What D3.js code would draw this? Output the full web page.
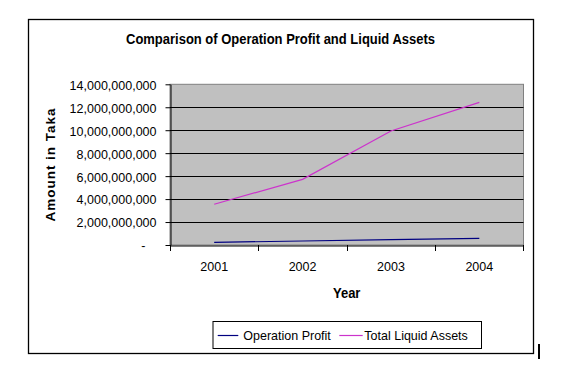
<!DOCTYPE html>
<html><head><meta charset="utf-8">
<script src="https://cdn.jsdelivr.net/npm/d3@7"></script>
<style>body{margin:0;background:#fff}svg{display:block}text{font-family:Arial,"Liberation Sans",sans-serif}</style>
</head><body>
<script>
const years = ["2001","2002","2003","2004"];
const operationProfit = [230000000, 350000000, 460000000, 580000000];
const totalLiquidAssets = [3550000000, 5720000000, 9930000000, 12430000000];
const yTicks = [0, 2e9, 4e9, 6e9, 8e9, 10e9, 12e9, 14e9];
const seriesNames = ["Operation Profit", "Total Liquid Assets"];
const seriesColors = ["#000080", "#CC33CC"];

const W = 564, H = 380;
const svg = d3.select("body").append("svg").attr("width", W).attr("height", H);

// make text look taller (narrow rendering of the reference): measure at base size, then enlarge keeping width
function stretch(sel, baseSize, bigSize) {
  sel.each(function() {
    const t = d3.select(this);
    t.attr("font-size", baseSize);
    const w = this.getComputedTextLength();
    t.attr("font-size", bigSize).attr("textLength", w).attr("lengthAdjust", "spacingAndGlyphs");
  });
}

// outer chart border
svg.append("rect").attr("x", 28.5).attr("y", 19.5).attr("width", 505).attr("height", 334)
  .attr("fill", "#fff").attr("stroke", "#000").attr("stroke-width", 1.3);
svg.append("line").attr("x1", 539).attr("x2", 539).attr("y1", 344).attr("y2", 359)
  .attr("stroke", "#000").attr("stroke-width", 2);

const x = d3.scaleBand().domain(years).range([170, 523.5]);
const y = d3.scaleLinear().domain([0, 14e9]).range([245, 84.3]);

// plot area
svg.append("rect").attr("x", 170).attr("y", y(14e9)).attr("width", 523.5 - 170).attr("height", y(0) - y(14e9))
  .attr("fill", "#C0C0C0").attr("stroke", "#808080").attr("stroke-width", 1);

// gridlines
svg.append("g").selectAll("line").data(yTicks.filter(d => d > 0 && d < 14e9)).join("line")
  .attr("x1", 170).attr("x2", 523.5).attr("y1", d => Math.round(y(d)) + 0.5).attr("y2", d => Math.round(y(d)) + 0.5)
  .attr("stroke", "#000").attr("stroke-width", 1);

// y axis
const fmt = d => d === 0 ? "-" : d3.format(",")(d);
const yAxis = svg.append("g").attr("transform", "translate(170.5,0)")
  .call(d3.axisLeft(y).tickValues(yTicks).tickFormat(fmt).tickSize(5).tickSizeOuter(0).tickPadding(9));
yAxis.select(".domain").attr("stroke", "#000");
yAxis.selectAll("text").attr("fill", "#000").attr("font-family", "Arial, 'Liberation Sans', sans-serif")
  .attr("dy", "0.36em");
stretch(yAxis.selectAll("text"), 12.5, 13.5);
yAxis.selectAll(".tick").filter(d => d === 0).select("text").attr("x", -25);

// x axis
const xAxis = svg.append("g").attr("transform", "translate(0,245.5)")
  .call(d3.axisBottom(x).tickSize(0).tickSizeOuter(0).tickPadding(16));
xAxis.select(".domain").attr("stroke", "#000");
xAxis.selectAll("text").attr("fill", "#000").attr("font-family", "Arial, 'Liberation Sans', sans-serif");
stretch(xAxis.selectAll("text"), 12.5, 13.5);
// category boundary tick marks
svg.append("g").selectAll("line").data(years.concat(["end"])).join("line")
  .attr("x1", (d, i) => i < years.length ? Math.round(x(d)) + 0.5 : 523.5)
  .attr("x2", (d, i) => i < years.length ? Math.round(x(d)) + 0.5 : 523.5)
  .attr("y1", 245).attr("y2", 251).attr("stroke", "#000");

// lines
const line = d3.line().x((d, i) => x(years[i]) + x.bandwidth() / 2).y(d => y(d));
[operationProfit, totalLiquidAssets].forEach((s, k) => {
  svg.append("path").datum(s).attr("d", line).attr("fill", "none")
    .attr("stroke", seriesColors[k]).attr("stroke-width", 1.2);
});

// title
svg.append("text").attr("x", 280.5).attr("y", 43.5).attr("text-anchor", "middle")
  .attr("font-size", 14.5).attr("font-weight", "bold").attr("textLength", 309).attr("lengthAdjust", "spacingAndGlyphs")
  .text("Comparison of Operation Profit and Liquid Assets");

// y axis title
svg.append("text").attr("transform", "translate(55,165) rotate(-90)").attr("text-anchor", "middle")
  .attr("font-size", 13.5).attr("font-weight", "bold").attr("textLength", 113).attr("lengthAdjust", "spacing")
  .text("Amount in Taka");

// x axis title
const yt = svg.append("text").attr("x", 346.7).attr("y", 298).attr("text-anchor", "middle")
  .attr("font-weight", "bold").text("Year");
stretch(yt, 13, 14);

// legend
const lg = svg.append("g");
lg.append("rect").attr("x", 213).attr("y", 321.5).attr("width", 268.5).attr("height", 27)
  .attr("fill", "#fff").attr("stroke", "#000").attr("stroke-width", 1);
const legendItems = [
  {lx1: 217.7, lx2: 238.3, tx: 243.3},
  {lx1: 339.3, lx2: 362.7, tx: 364.3}
];
legendItems.forEach((it, i) => {
  lg.append("line").attr("x1", it.lx1).attr("x2", it.lx2).attr("y1", 335.5).attr("y2", 335.5)
    .attr("stroke", seriesColors[i]).attr("stroke-width", 1.2);
  const t = lg.append("text").attr("x", it.tx).attr("y", 340).text(seriesNames[i]);
  stretch(t, 12.5, 13.5);
});
</script>
</body></html>
